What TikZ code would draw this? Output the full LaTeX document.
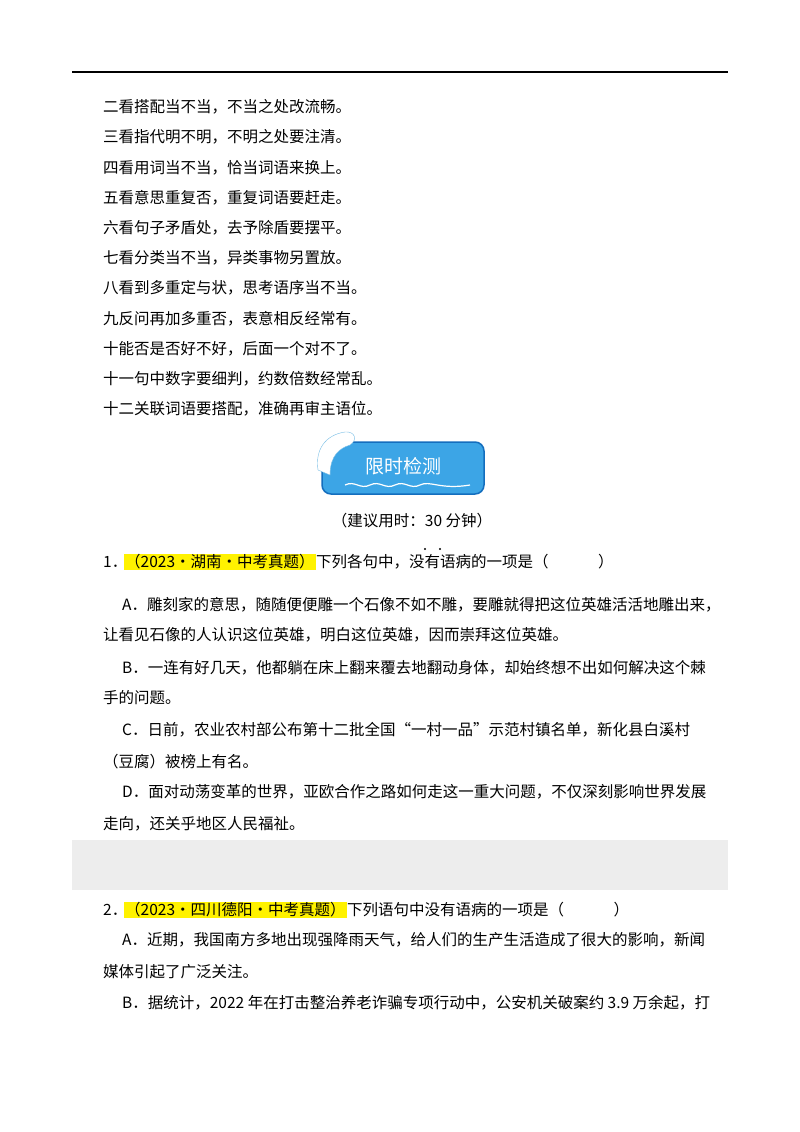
\documentclass[tikz,border=0pt]{standalone}
\usepackage{fontspec}
\setmainfont{Liberation Serif}
\newfontfamily\cjk{Noto Sans CJK SC}
\begin{document}
\begin{tikzpicture}[x=1pt,y=-1pt,
 txt/.style={anchor=west,inner sep=0pt,font=\cjk\fontsize{15.5}{18}\selectfont},
 hl/.style={fill=yellow,inner sep=1pt,anchor=west,font=\cjk\fontsize{15.5}{18}\selectfont}]
\useasboundingbox[fill=white] (0,0) rectangle (800,1132);
\draw[line width=1.2pt] (72,72) coordinate (r1) -- (728,72) coordinate (r2);
\foreach \t [count=\i] in {二看搭配当不当，不当之处改流畅。,三看指代明不明，不明之处要注清。,四看用词当不当，恰当词语来换上。,五看意思重复否，重复词语要赶走。,六看句子矛盾处，去予除盾要摆平。,七看分类当不当，异类事物另置放。,八看到多重定与状，思考语序当不当。,九反问再加多重否，表意相反经常有。,十能否是否好不好，后面一个对不了。,十一句中数字要细判，约数倍数经常乱。,十二关联词语要搭配，准确再审主语位。}
 \node[txt] (l\i) at (103,{107+30.2*(\i-1)}) {\t};
% banner
\node[draw={rgb,255:red,20;green,110;blue,190},line width=1.5pt,fill={rgb,255:red,60;green,165;blue,230},rounded corners=9pt,minimum width=162pt,minimum height=52pt] (ban) at (403,468) {};
\node[font=\cjk\fontsize{19}{22}\selectfont,text=white] (bt) at (403,466) {限时检测};
\draw[white,line width=1.2pt] (345,485) .. controls (355,480) and (360,490) .. (370,485) .. controls (380,480) and (385,490) .. (395,485) .. controls (405,480) and (410,490) .. (420,485) .. controls (430,480) and (440,490) .. (470,485);
\fill[white,draw={rgb,255:red,120;green,190;blue,230}] (318,470) .. controls (315,450) and (325,435) .. (345,432) .. controls (355,431) and (358,440) .. (350,445) .. controls (340,448) and (330,455) .. (330,475) -- cycle;
\node[txt,anchor=center] (time) at (412,521) {（建议用时：30 分钟）};
% Q1
\node[txt] (q1n) at (103,562) {1．};
\node[hl] (q1h) at (124,562) {（2023·湖南·中考真题）};
\node[txt] (q1t) at (q1h.east) {下列各句中，没有语病的一项是（\hspace{3.2em}）};
\fill (425,549) circle (1.1pt) (440,549) circle (1.1pt);
\node[txt] (a1) at (122,605) {A．雕刻家的意思，随随便便雕一个石像不如不雕，要雕就得把这位英雄活活地雕出来，};
\node[txt] (a2) at (103,635) {让看见石像的人认识这位英雄，明白这位英雄，因而崇拜这位英雄。};
\node[txt] (b1) at (122,668) {B．一连有好几天，他都躺在床上翻来覆去地翻动身体，却始终想不出如何解决这个棘};
\node[txt] (b2) at (103,698) {手的问题。};
\node[txt] (c1) at (122,730) {C．日前，农业农村部公布第十二批全国“一村一品”示范村镇名单，新化县白溪村};
\node[txt] (c2) at (103,762) {（豆腐）被榜上有名。};
\node[txt] (d1) at (122,792) {D．面对动荡变革的世界，亚欧合作之路如何走这一重大问题，不仅深刻影响世界发展};
\node[txt] (d2) at (103,824) {走向，还关乎地区人民福祉。};
\fill[black!7] (72,840) rectangle (728,890);
% Q2
\node[txt] (q2n) at (103,910) {2．};
\node[hl] (q2h) at (124,910) {（2023·四川德阳·中考真题）};
\node[txt] (q2t) at (q2h.east) {下列语句中没有语病的一项是（\hspace{3.2em}）};
\node[txt] (e1) at (122,940) {A．近期，我国南方多地出现强降雨天气，给人们的生产生活造成了很大的影响，新闻};
\node[txt] (e2) at (103,972) {媒体引起了广泛关注。};
\node[txt] (f1) at (122,1003) {B．据统计，2022 年在打击整治养老诈骗专项行动中，公安机关破案约 3.9 万余起，打};
\end{tikzpicture}
\end{document}
